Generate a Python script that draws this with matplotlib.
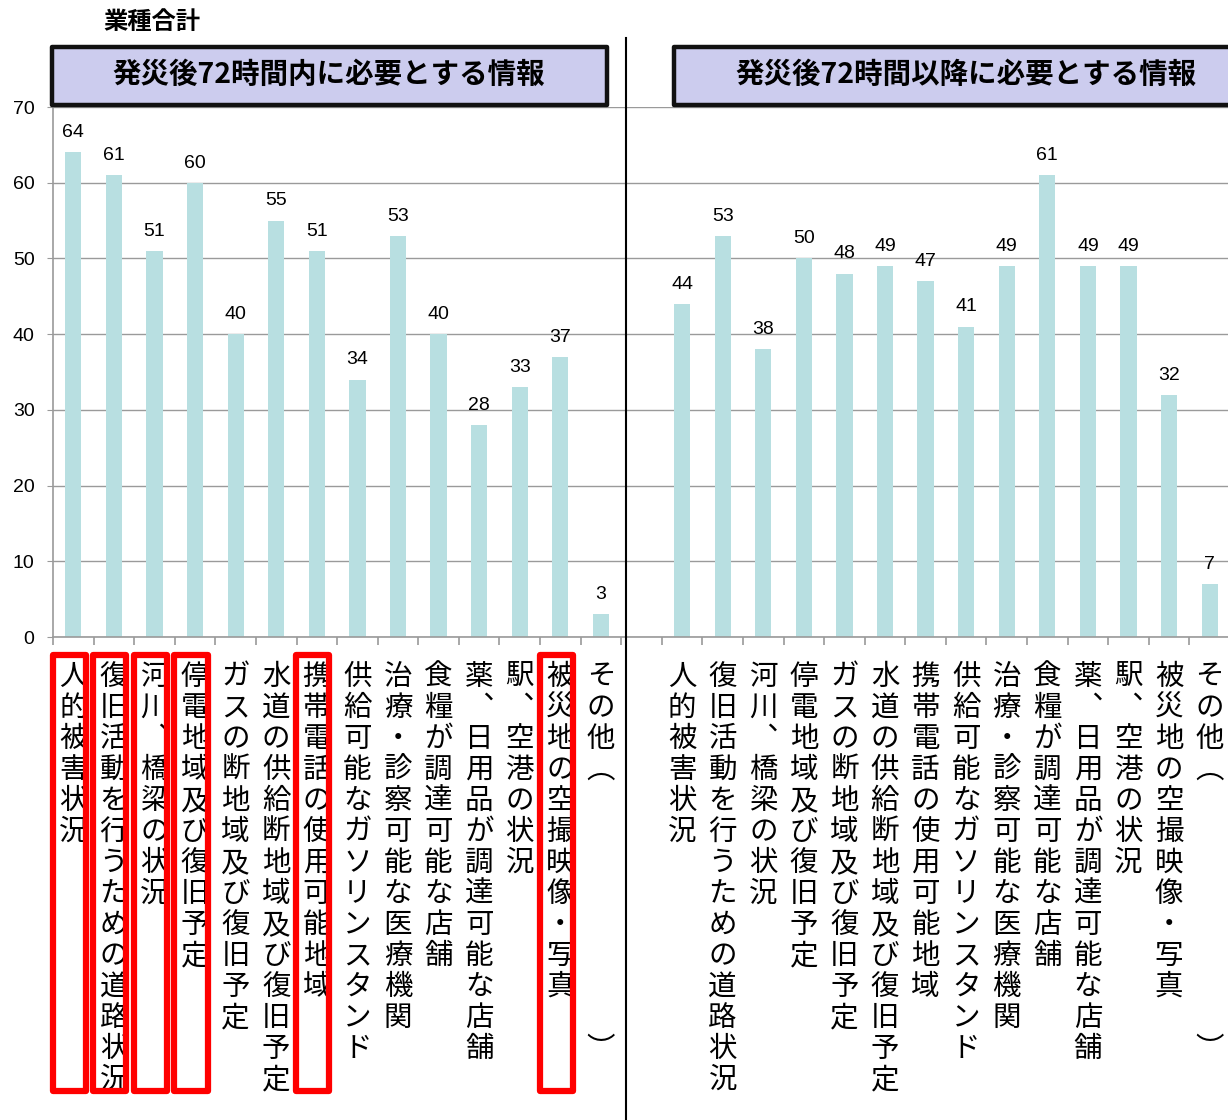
import numpy as np
import matplotlib
matplotlib.use("Agg")
import matplotlib.pyplot as plt
import matplotlib.transforms as mtransforms
from matplotlib.patches import Rectangle

plt.rcParams['font.family'] = ['Noto Sans CJK JP', 'DejaVu Sans']

# data
categories = ["人的被害状況", "復旧活動を行うための道路状況", "河川、橋梁の状況",
              "停電地域及び復旧予定", "ガスの断地域及び復旧予定",
              "水道の供給断地域及び復旧予定", "携帯電話の使用可能地域",
              "供給可能なガソリンスタンド", "治療・診察可能な医療機関",
              "食糧が調達可能な店舗", "薬、日用品が調達可能な店舗",
              "駅、空港の状況", "被災地の空撮映像・写真",
              "その他（　　　　　　　　）"]
within_72h = [64, 61, 51, 60, 40, 55, 51, 34, 53, 40, 28, 33, 37, 3]
after_72h = [44, 53, 38, 50, 48, 49, 47, 41, 49, 61, 49, 49, 32, 7]
highlighted = [0, 1, 2, 3, 6, 12]
panel_titles = ["発災後72時間内に必要とする情報", "発災後72時間以降に必要とする情報"]
chart_title = "業種合計"
yticks = [0, 10, 20, 30, 40, 50, 60, 70]

bar_color = '#b8dfe1'
grid_color = '#9a9a9a'
px = 0.72  # points per pixel at dpi 100

fig = plt.figure(figsize=(12.28, 11.2), dpi=100)
ax = fig.add_axes([53 / 1228, 483 / 1120, 1177 / 1228, 530 / 1120])

n = len(categories)
x_left = np.arange(n)
x_right = np.arange(n) + n + 1

ax.bar(x_left, within_72h, width=0.4, color=bar_color, zorder=2)
ax.bar(x_right, after_72h, width=0.4, color=bar_color, zorder=2)

for xs, vals in [(x_left, within_72h), (x_right, after_72h)]:
    for x, v in zip(xs, vals):
        ax.annotate(str(v), (x, v), xytext=(0, 8), textcoords='offset points',
                    ha='center', va='bottom', fontsize=14, family='Liberation Sans')

ax.set_xlim(-0.5, 2 * n + 0.5)
ax.set_ylim(0, 70)
ax.set_yticks(yticks)
ax.set_yticklabels([str(t) for t in yticks], family='Liberation Sans', fontsize=14)
ax.tick_params(axis='y', length=6 * px, color=grid_color, pad=9)
ax.set_xticks(np.arange(-0.5, 2 * n + 1, 1))
ax.set_xticklabels([])
ax.tick_params(axis='x', length=8 * px, color=grid_color, width=1.2)
ax.yaxis.grid(True, color=grid_color, lw=1)
ax.set_axisbelow(True)
for s in ['top', 'right']:
    ax.spines[s].set_visible(False)
for s in ['left', 'bottom']:
    ax.spines[s].set_color(grid_color)
    ax.spines[s].set_linewidth(1.2)

trans = mtransforms.blended_transform_factory(ax.transData, ax.transAxes)

# vertical category labels
vert = {"、": "︑", "（": "︵", "）": "︶"}
for xs in [x_left, x_right]:
    for x, label in zip(xs, categories):
        for j, ch in enumerate(label):
            if ch == "　":
                continue
            ax.annotate(vert.get(ch, ch), (x, 0), xycoords=('data', 'axes fraction'),
                        xytext=(0, -(48 + j * 31) * px), textcoords='offset points',
                        ha='center', va='baseline', fontsize=20.5, annotation_clip=False)

# red highlight boxes
for i in highlighted:
    ax.add_patch(Rectangle((i - 0.1 - 0.41, -0.856), 0.82, 0.822, transform=trans,
                           fill=False, edgecolor='#ff0000', lw=4.5, joinstyle='round',
                           clip_on=False, zorder=5))

# panel headers
headers = [(-0.52, 13.15), (14.8, 31.0)]
for (x0, x1), title in zip(headers, panel_titles):
    ax.add_patch(Rectangle((x0, 1.004), x1 - x0, 0.109, transform=trans,
                           facecolor='#ccccee', edgecolor='#111111', lw=3.2,
                           joinstyle='round', clip_on=False, zorder=5))
ax.text(6.3, 1.06, panel_titles[0], transform=trans, ha='center', va='center',
        fontsize=20.5, fontweight='bold', zorder=6)
ax.text(22.0, 1.06, panel_titles[1], transform=trans, ha='center', va='center',
        fontsize=20.5, fontweight='bold', zorder=6)

# divider between the two periods
ax.plot([13.63, 13.63], [-0.92, 1.13], transform=trans, color='black', lw=1.5,
        clip_on=False, zorder=6)

fig.text(152 / 1228, 1 - 22 / 1120, chart_title, ha='center', va='center',
         fontsize=17.5, fontweight='bold')

fig.savefig('out.png', dpi=100)
